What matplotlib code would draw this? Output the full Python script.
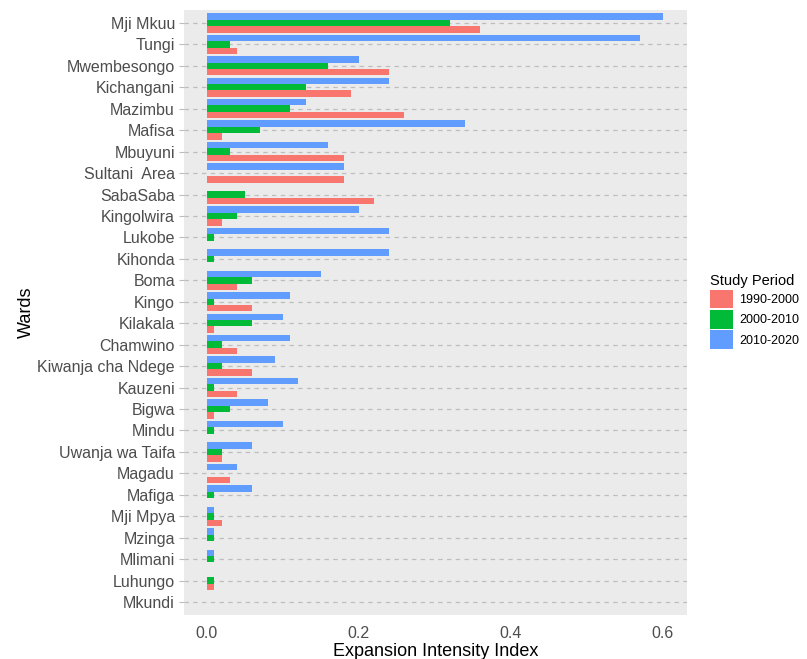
import matplotlib.pyplot as plt
import numpy as np
from matplotlib.patches import Patch

plt.rcParams['font.family'] = ['Liberation Sans', 'DejaVu Sans']

# wards, top to bottom as in the chart
wards = ['Mji Mkuu', 'Tungi', 'Mwembesongo', 'Kichangani', 'Mazimbu', 'Mafisa',
         'Mbuyuni', 'Sultani  Area', 'SabaSaba', 'Kingolwira', 'Lukobe', 'Kihonda',
         'Boma', 'Kingo', 'Kilakala', 'Chamwino', 'Kiwanja cha Ndege', 'Kauzeni',
         'Bigwa', 'Mindu', 'Uwanja wa Taifa', 'Magadu', 'Mafiga', 'Mji Mpya',
         'Mzinga', 'Mlimani', 'Luhungo', 'Mkundi']

p1990 = [0.36, 0.04, 0.24, 0.19, 0.26, 0.02, 0.18, 0.18, 0.22, 0.02, 0.0, 0.0,
         0.04, 0.06, 0.01, 0.04, 0.06, 0.04, 0.01, 0.0, 0.02, 0.03, 0.0, 0.02,
         0.0, 0.0, 0.01, 0.0]
p2000 = [0.32, 0.03, 0.16, 0.13, 0.11, 0.07, 0.03, 0.0, 0.05, 0.04, 0.01, 0.01,
         0.06, 0.01, 0.06, 0.02, 0.02, 0.01, 0.03, 0.01, 0.02, 0.0, 0.01, 0.01,
         0.01, 0.01, 0.01, 0.0]
p2010 = [0.60, 0.57, 0.20, 0.24, 0.13, 0.34, 0.16, 0.18, 0.0, 0.20, 0.24, 0.24,
         0.15, 0.11, 0.10, 0.11, 0.09, 0.12, 0.08, 0.10, 0.06, 0.04, 0.06, 0.01,
         0.01, 0.01, 0.0, 0.0]

periods = ['1990-2000', '2000-2010', '2010-2020']
colors = ['#F8766D', '#00BA38', '#619CFF']

fig = plt.figure(figsize=(8.07, 6.59), dpi=100)
ax = fig.add_axes([184/807, 1-615/659, (687-184)/807, (615-10)/659])
ax.set_facecolor('#EBEBEB')

n = len(wards)
y = np.arange(n)[::-1]
h = 0.3
for k, (vals, c) in enumerate(zip([p1990, p2000, p2010], colors)):
    ax.barh(y + (k - 1) * h, vals, height=h, color=c, zorder=3)

ax.set_yticks(y)
ax.set_yticklabels(wards)
ax.set_xticks([0.0, 0.2, 0.4, 0.6])
ax.set_xticklabels(['0.0', '0.2', '0.4', '0.6'])
ax.set_xlim(-0.030, 0.632)
ax.set_ylim(-0.6, n - 1 + 0.6)

for yy in y:
    ax.axhline(yy, color='#BDBDBD', lw=0.9, ls=(0, (3.5, 3.5)), zorder=1)

for s in ax.spines.values():
    s.set_visible(False)
ax.tick_params(axis='y', length=3.5, color='#BDBDBD', labelsize=11.5, labelcolor='#4D4D4D', pad=3)
ax.tick_params(axis='x', length=0, labelsize=11.5, labelcolor='#4D4D4D', pad=8)

ax.set_xlabel('Expansion Intensity Index', fontsize=13, labelpad=1)
ax.set_ylabel('Wards', fontsize=13, labelpad=2)

handles = [Patch(facecolor=c, label=p) for p, c in zip(periods, colors)]
leg = fig.legend(handles=handles, title='Study Period', loc='upper left',
                 bbox_to_anchor=(705/807, 1-269/659), frameon=False,
                 fontsize=9, title_fontsize=10.5, handlelength=1.85, handleheight=1.95,
                 labelspacing=0.12, handletextpad=0.5, borderaxespad=0)
leg._legend_box.align = 'left'

fig.savefig('out.png', dpi=100)
